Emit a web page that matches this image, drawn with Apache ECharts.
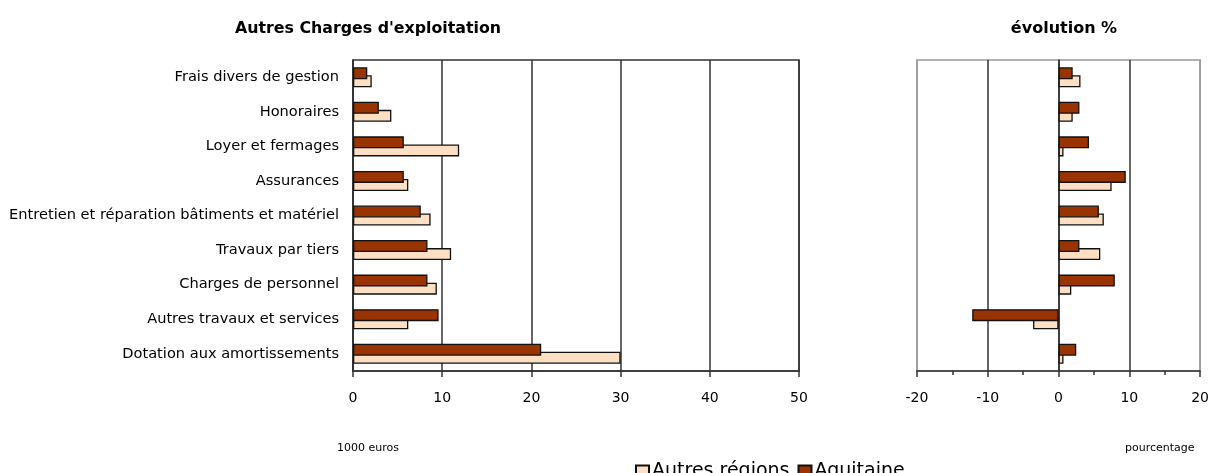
<!DOCTYPE html>
<html>
<head>
<meta charset="utf-8">
<script src="https://cdn.jsdelivr.net/npm/echarts@6/dist/echarts.min.js"></script>
<style>
html,body{margin:0;padding:0;background:#fff;}
#chart{width:1212px;height:473px;}
</style>
</head>
<body>
<div id="chart"></div>
<script>
// ---- data ----
const categories = [
  'Frais divers de gestion',
  'Honoraires',
  'Loyer et fermages',
  'Assurances',
  'Entretien et réparation bâtiments et matériel',
  'Travaux par tiers',
  'Charges de personnel',
  'Autres travaux et services',
  'Dotation aux amortissements'
];
// Left chart: Autres Charges d'exploitation (1000 euros)
const chargesAquitaine = [1.6, 2.9, 5.7, 5.7, 7.6, 8.35, 8.35, 9.6, 21.1];
const chargesAutres    = [2.1, 4.3, 11.9, 6.2, 8.7, 11.0, 9.4, 6.2, 30.0];
// Right chart: évolution %
const evolAquitaine = [2.0, 2.95, 4.3, 9.5, 5.7, 2.95, 7.95, -12.2, 2.5];
const evolAutres    = [3.1, 2.0, 0.7, 7.5, 6.4, 5.9, 1.8, -3.6, 0.7];
const leftTicks = [0, 10, 20, 30, 40, 50];
const rightTicks = [-20, -10, 0, 10, 20];

const colAquitaine = '#993300';
const colAutres = '#FDE0C4';
const font = 'DejaVu Sans';

const chart = echarts.init(document.getElementById('chart'), null, {renderer: 'canvas'});

function barSeries(name, data, xi, color, z) {
  return {
    name: name, type: 'bar', xAxisIndex: xi, yAxisIndex: xi,
    data: data, barWidth: 12, barGap: '-33%', z: z,
    itemStyle: {color: color, borderColor: '#111', borderWidth: 1.3},
    emphasis: {disabled: true}
  };
}

const option = {
  animation: false,
  backgroundColor: '#fff',
  title: [
    {text: "Autres Charges d'exploitation", left: 363, top: 16, textAlign: 'center',
     textStyle: {fontFamily: font, fontWeight: 'bold', fontSize: 15.8, color: '#000'}},
    {text: 'évolution %', left: 1059, top: 16, textAlign: 'center',
     textStyle: {fontFamily: font, fontWeight: 'bold', fontSize: 16, color: '#000'}}
  ],
  legend: {
    data: ['Autres régions', 'Aquitaine'],
    left: 630, top: 457, itemWidth: 13, itemHeight: 12, itemGap: 8,
    icon: 'rect',
    textStyle: {fontFamily: font, fontSize: 19, color: '#000', padding: [0,0,0,-2]}
  },
  graphic: [
    {type: 'text', left: 337, top: 443, style: {text: '1000 euros', font: '11px ' + font, fill: '#000'}},
    {type: 'text', left: 1125, top: 443, style: {text: 'pourcentage', font: '11px ' + font, fill: '#000'}}
  ],
  grid: [
    {left: 353, right: 413, top: 60, bottom: 102, show: true, borderColor: '#333', borderWidth: 1.5},
    {left: 917, right: 9, top: 60, bottom: 102, show: true, borderColor: '#999', borderWidth: 1.5}
  ],
  xAxis: [
    {gridIndex: 0, type: 'value', min: leftTicks[0], max: leftTicks[leftTicks.length-1], interval: 10,
     axisLine: {show: true, lineStyle: {color: '#333', width: 1.5}},
     axisTick: {show: true, length: 6, lineStyle: {color: '#333', width: 1.5}},
     axisLabel: {margin: 20, fontFamily: font, fontSize: 14, color: '#000'},
     splitLine: {show: true, lineStyle: {color: '#333', width: 1.5}}},
    {gridIndex: 1, type: 'value', min: rightTicks[0], max: rightTicks[rightTicks.length-1], interval: 10,
     axisLine: {show: true, onZero: false, lineStyle: {color: '#333', width: 1.5}},
     axisTick: {show: true, length: 6, lineStyle: {color: '#333', width: 1.5}},
     minorTick: {show: true, splitNumber: 2, length: 4, lineStyle: {color: '#333', width: 1.5}},
     axisLabel: {margin: 20, fontFamily: font, fontSize: 14, color: '#000'},
     splitLine: {show: true, lineStyle: {color: ['#999', '#333', '#333', '#333', '#999'], width: 1.5}}}
  ],
  yAxis: [
    {gridIndex: 0, type: 'category', data: categories, inverse: true,
     axisLine: {show: true, lineStyle: {color: '#333', width: 1.5}},
     axisTick: {show: false},
     axisLabel: {margin: 14, fontFamily: font, fontSize: 14.6, color: '#000'}},
    {gridIndex: 1, type: 'category', data: categories, inverse: true,
     axisLine: {show: true, onZero: true, lineStyle: {color: '#333', width: 1.5}},
     axisTick: {show: false},
     axisLabel: {show: false}}
  ],
  series: [
    barSeries('Aquitaine', chargesAquitaine, 0, colAquitaine, 3),
    barSeries('Autres régions', chargesAutres, 0, colAutres, 2),
    barSeries('Aquitaine', evolAquitaine, 1, colAquitaine, 3),
    barSeries('Autres régions', evolAutres, 1, colAutres, 2)
  ]
};
chart.setOption(option);
</script>
</body>
</html>
